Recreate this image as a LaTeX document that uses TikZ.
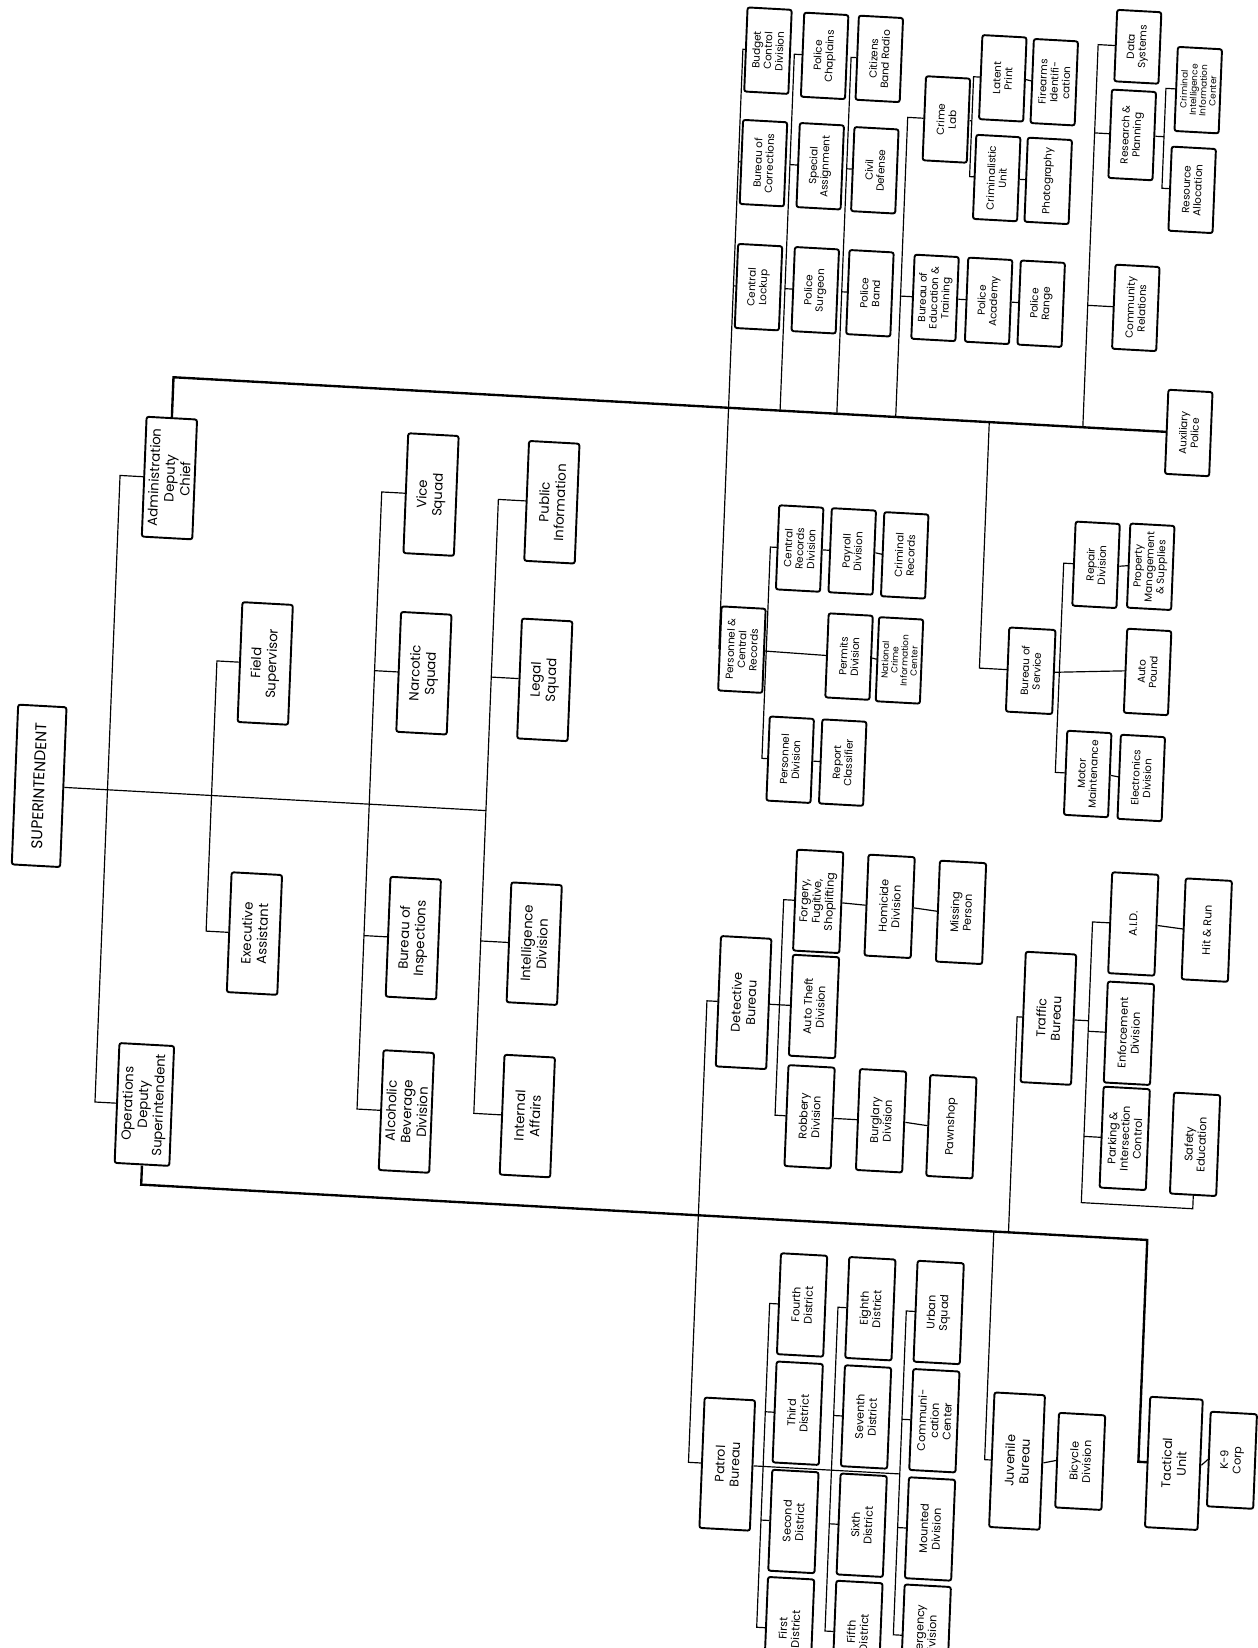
\documentclass[tikz,border=0pt]{standalone}
\usepackage{fontspec}
\setmainfont{Poppins}
\begin{document}
\begin{tikzpicture}[
  x=0.25mm, y=-0.25mm,
  box/.style={rectangle, rounded corners=1.5pt, draw, line width=1.3pt, rotate=90, transform shape, align=center, inner sep=1pt},
  chief/.style={box, minimum width=38mm, minimum height=11.5mm, font=\fontsize{10.5}{12}\selectfont},
  staff/.style={box, minimum width=28.5mm, minimum height=12mm, font=\fontsize{9}{10.5}\selectfont},
  bureau/.style={box, minimum width=31mm, minimum height=12mm, font=\fontsize{8.5}{10}\selectfont},
  unit/.style={box, minimum width=24mm, minimum height=11mm, font=\fontsize{7.5}{8.5}\selectfont},
  cell/.style={box, minimum width=20mm, minimum height=10.5mm, font=\fontsize{7}{7.8}\selectfont},
  link/.style={line width=0.8pt},
  trunk/.style={line width=1.6pt}
]
\useasboundingbox (0,0) rectangle (1196,1568);
\begin{scope}[cm={1,-0.055,0.04,1,(0,0)}]
\node[chief] (supt) at (67,744) {SUPERINTENDENT};
\node[staff] (admin) at (179,445) {Administration\\Deputy\\Chief};
\node[staff, minimum height=13mm] (ops) at (179,1041) {Operations\\Deputy\\Superintendent};
\node[staff] (field) at (277,616) {Field\\Supervisor};
\node[staff] (exec) at (277,873) {Executive\\Assistant};
\node[staff] (vice) at (428,447) {Vice\\Squad};
\node[staff] (narc) at (428,617) {Narcotic\\Squad};
\node[staff] (insp) at (428,869) {Bureau of\\Inspections};
\node[staff] (abd) at (428,1034) {Alcoholic\\Beverage\\Division};
\node[staff] (pubinfo) at (543,448) {Public\\Information};
\node[staff] (legal) at (543,617) {Legal\\Squad};
\node[staff] (intel) at (543,868) {Intelligence\\Division};
\node[staff] (intaff) at (543,1032) {Internal\\Affairs};

\node[cell] (budget) at (731,8) {Budget\\Control\\Division};
\node[cell] (corr) at (731,115) {Bureau of\\Corrections};
\node[cell] (lockup) at (731,233) {Central\\Lockup};
\node[cell] (chap) at (785,10) {Police\\Chaplains};
\node[cell] (special) at (785,115) {Special\\Assignment};
\node[cell] (surgeon) at (785,233) {Police\\Surgeon};
\node[cell] (cbr) at (837,10) {Citizens\\Band Radio};
\node[cell] (civil) at (837,116) {Civil\\Defense};
\node[cell] (band) at (837,233) {Police\\Band};
\node[cell] (crimelab) at (903,64) {Crime\\Lab};
\node[cell] (latent) at (955,22) {Latent\\Print};
\node[cell] (firearms) at (1004,23) {Firearms\\Identifi-\\cation};
\node[cell] (crimn) at (953,117) {Criminalistic\\Unit};
\node[cell] (photo) at (1002,117) {Photography};
\node[cell] (bet) at (899,234) {Bureau of\\Education \&\\Training};
\node[cell] (academy) at (950,234) {Police\\Academy};
\node[cell] (range) at (1000,234) {Police\\Range};
\node[cell, minimum width=17mm] (datasys) at (1082,-15) {Data\\Systems};
\node[cell, minimum width=21mm] (resplan) at (1080,69) {Research \&\\Planning};
\node[cell, font=\fontsize{6}{6.5}\selectfont] (ciic) at (1141,23) {Criminal\\Intelligence\\Information\\Center};
\node[cell] (resalloc) at (1139,118) {Resource\\Allocation};
\node[cell] (commrel) at (1090,233) {Community\\Relations};
\node[cell] (aux) at (1145,349) {Auxiliary\\Police};

\node[cell] (pcr) at (729,578) {Personnel \&\\Central\\Records};
\node[cell] (crd) at (780,479) {Central\\Records\\Division};
\node[cell] (payroll) at (830,479) {Payroll\\Division};
\node[cell] (crimrec) at (880,480) {Criminal\\Records};
\node[cell] (permits) at (831,579) {Permits\\Division};
\node[cell, font=\fontsize{6}{6.5}\selectfont] (ncic) at (879,580) {National\\Crime\\Information\\Center};
\node[cell] (persdiv) at (779,680) {Personnel\\Division};
\node[cell] (reportcl) at (829,680) {Report\\Classifier};

\node[cell, minimum height=11mm] (bos) at (1004,583) {Bureau of\\Service};
\node[cell] (repair) at (1062,479) {Repair\\Division};
\node[cell] (propmgmt) at (1114,478) {Property\\Management\\\& Supplies};
\node[cell] (autopound) at (1115,578) {Auto\\Pound};
\node[cell] (motor) at (1062,678) {Motor\\Maintenance};
\node[cell] (electr) at (1113,679) {Electronics\\Division};

\node[bureau] (det) at (744,913) {Detective\\Bureau};
\node[unit] (forgery) at (811,813) {Forgery,\\Fugitive,\\Shoplifting};
\node[unit] (homicide) at (879,814) {Homicide\\Division};
\node[unit] (missing) at (947,816) {Missing\\Person};
\node[unit] (autotheft) at (811,913) {Auto Theft\\Division};
\node[unit] (robbery) at (811,1018) {Robbery\\Division};
\node[unit] (burglary) at (879,1018) {Burglary\\Division};
\node[unit] (pawn) at (946,1020) {Pawnshop};

\node[bureau] (traffic) at (1034,912) {Traffic\\Bureau};
\node[unit] (aid) at (1111,818) {A.I.D.};
\node[unit] (hitrun) at (1181,820) {Hit \& Run};
\node[unit] (enforce) at (1111,922) {Enforcement\\Division};
\node[unit] (parking) at (1111,1022) {Parking \&\\Intersection\\Control};
\node[unit] (safety) at (1178,1024) {Safety\\Education};

\node[bureau] (patrol) at (746,1352) {Patrol\\Bureau};
\node[unit] (d4) at (811,1197) {Fourth\\District};
\node[unit] (d3) at (811,1300) {Third\\District};
\node[unit] (d2) at (811,1403) {Second\\District};
\node[unit] (d1) at (811,1505) {First\\District};
\node[unit] (d8) at (876,1197) {Eighth\\District};
\node[unit] (d7) at (876,1300) {Seventh\\District};
\node[unit] (d6) at (876,1403) {Sixth\\District};
\node[unit] (d5) at (876,1505) {Fifth\\District};
\node[unit] (urban) at (941,1197) {Urban\\Squad};
\node[unit] (comm) at (941,1300) {Communi-\\cation\\Center};
\node[unit] (mounted) at (941,1403) {Mounted\\Division};
\node[unit] (emerg) at (941,1505) {Emergency\\Division};

\node[bureau, minimum width=32mm] (juv) at (1021,1334) {Juvenile\\Bureau};
\node[unit, minimum width=22.5mm] (bicycle) at (1081,1331) {Bicycle\\Division};
\node[bureau, minimum height=12.5mm] (tactical) at (1170,1328) {Tactical\\Unit};
\node[unit, minimum width=22.5mm] (k9) at (1225,1322) {K-9\\Corp};

\coordinate (dep) at (132,1041);
\coordinate (s1) at (231,873);
\coordinate (s2) at (381,1034);
\coordinate (s3) at (492,1032);
\coordinate (colA) at (707,349);
\coordinate (colB) at (756,349);
\coordinate (colC) at (810,349);
\coordinate (colD) at (866,349);
\coordinate (colS) at (955,349);
\coordinate (colE) at (1044,349);
\coordinate (lab) at (927,117);
\coordinate (rpb) at (1110,118);
\coordinate (pcb) at (752,680);
\coordinate (bsb) at (1031,678);
\coordinate (colP) at (709,1117);
\coordinate (colJ) at (990,1117);
\coordinate (colT) at (1004,1117);
\coordinate (tac) at (1136,1117);
\coordinate (dtb) at (778,1018);
\coordinate (trb) at (1072,1085);
\coordinate (pb1) at (780,1505);
\coordinate (pb2) at (845,1505);
\coordinate (pb3) at (910,1505);

\draw[link] (supt.south) -- (supt.south -| s3);
\draw[link] (admin.north) -| (dep) -- (ops.north);
\draw[link] (field.north) -| (s1) -- (exec.north);
\draw[link] (vice.north) -| (s2) -- (abd.north);
\draw[link] (narc.north) -- (narc.north -| s2);
\draw[link] (insp.north) -- (insp.north -| s2);
\draw[link] (pubinfo.north) -| (s3) -- (intaff.north);
\draw[link] (legal.north) -- (legal.north -| s3);
\draw[link] (intel.north) -- (intel.north -| s3);

\draw[trunk] (admin.east) |- (aux.north);
\draw[link] (budget.north) -| (colA) |- (pcr.north);
\draw[link] (corr.north) -- (corr.north -| colA);
\draw[link] (lockup.north) -- (lockup.north -| colA);
\draw[link] (chap.north) -| (colB);
\draw[link] (special.north) -- (special.north -| colB);
\draw[link] (surgeon.north) -- (surgeon.north -| colB);
\draw[link] (cbr.north) -| (colC);
\draw[link] (civil.north) -- (civil.north -| colC);
\draw[link] (band.north) -- (band.north -| colC);
\draw[link] (crimelab.north) -| (colD);
\draw[link] (bet.north) -- (bet.north -| colD);
\draw[link] (bet.south) -- (academy.north);
\draw[link] (academy.south) -- (range.north);
\draw[link] (latent.north) -| (lab) -- (crimn.north);
\draw[link] (crimelab.south) -- (crimelab.south -| lab);
\draw[link] (latent.south) -- (firearms.north);
\draw[link] (crimn.south) -- (photo.north);
\draw[link] (datasys.north) -| (colE);
\draw[link] (resplan.north) -- (resplan.north -| colE);
\draw[link] (commrel.north) -- (commrel.north -| colE);
\draw[link] (ciic.north) -| (rpb) -- (resalloc.north);
\draw[link] (resplan.south) -- (resplan.south -| rpb);

\draw[link] (crd.north) -| (pcb) -- (persdiv.north);
\draw[link] (pcr.south) -- (permits.north);
\draw[link] (crd.south) -- (payroll.north);
\draw[link] (payroll.south) -- (crimrec.north);
\draw[link] (permits.south) -- (ncic.north);
\draw[link] (persdiv.south) -- (reportcl.north);

\draw[link] (colS) |- (bos.north);
\draw[link] (repair.north) -| (bsb) -- (motor.north);
\draw[link] (bos.south) -- (autopound.north);
\draw[link] (repair.south) -- (propmgmt.north);
\draw[link] (motor.south) -- (electr.north);

\draw[trunk] (ops.west) |- (tac) |- (tactical.north);
\draw[link] (det.north) -| (colP) |- (patrol.north);
\draw[link] (traffic.north) -| (colT);
\draw[link] (colJ) |- (juv.north);
\draw[link] (juv.south) -- (bicycle.north);
\draw[link] (tactical.south) -- (k9.north);

\draw[link] (forgery.north) -| (dtb) -- (robbery.north);
\draw[link] (det.south) -- (autotheft.north);
\draw[link] (forgery.south) -- (homicide.north);
\draw[link] (homicide.south) -- (missing.north);
\draw[link] (robbery.south) -- (burglary.north);
\draw[link] (burglary.south) -- (pawn.north);

\draw[link] (aid.north) -| (trb) -| (safety.west);
\draw[link] (enforce.north) -- (enforce.north -| trb);
\draw[link] (parking.north) -- (parking.north -| trb);
\draw[link] (traffic.south) -- (traffic.south -| trb);
\draw[link] (aid.south) -- (hitrun.north);

\draw[link] (patrol.south) -- (patrol.south -| pb3);
\draw[link] (d4.north) -| (pb1) -- (d1.north);
\draw[link] (d3.north) -- (d3.north -| pb1);
\draw[link] (d2.north) -- (d2.north -| pb1);
\draw[link] (d8.north) -| (pb2) -- (d5.north);
\draw[link] (d7.north) -- (d7.north -| pb2);
\draw[link] (d6.north) -- (d6.north -| pb2);
\draw[link] (urban.north) -| (pb3) -- (emerg.north);
\draw[link] (comm.north) -- (comm.north -| pb3);
\draw[link] (mounted.north) -- (mounted.north -| pb3);
\end{scope}
\end{tikzpicture}
\end{document}
